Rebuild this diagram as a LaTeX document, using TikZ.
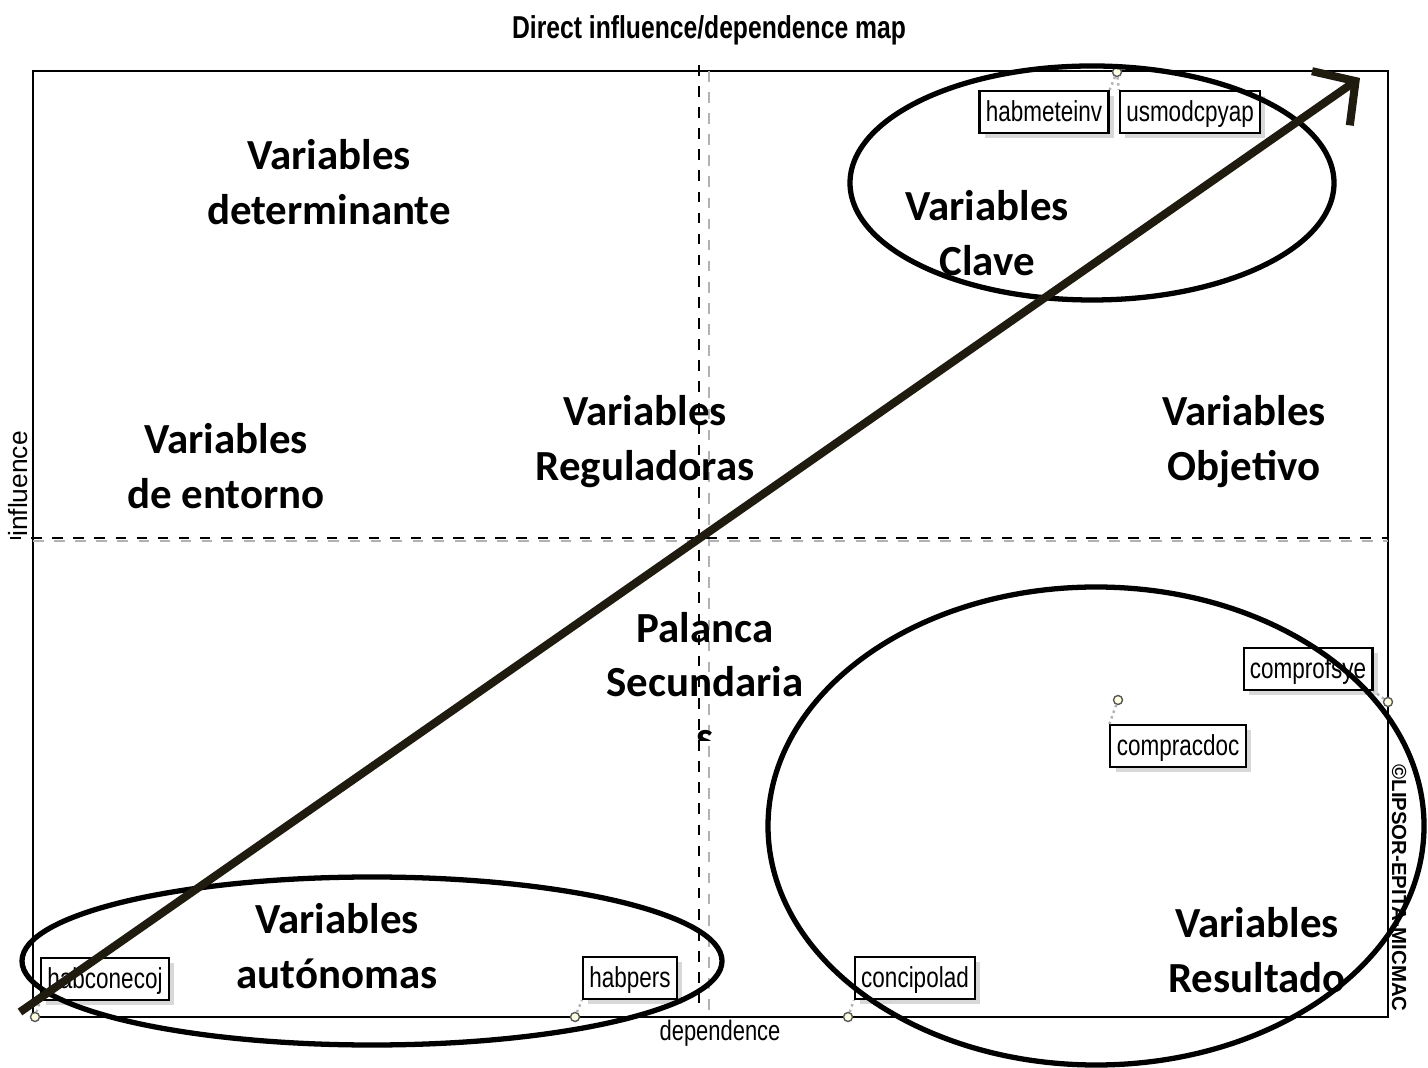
\documentclass[tikz,border=0pt]{standalone}
\usepackage{fontspec}
\setmainfont{Carlito}
\newfontfamily\narrowsans{Liberation Sans}[FakeStretch=0.78]
\newfontfamily\plainsans{Liberation Sans}
\usetikzlibrary{arrows.meta, shadows}

\begin{document}
\begin{tikzpicture}[
    x=0.01cm, y=-0.01cm,
    zone/.style={align=center, font=\fontsize{12.2}{15.6}\selectfont\bfseries},
    tag/.style={draw, line width=0.6pt, fill=white, inner xsep=1.8pt, inner ysep=1.2pt,
      text height=1.55ex, text depth=0.45ex, font=\fontsize{8.2}{9}\narrowsans,
      drop shadow={shadow xshift=1.5pt, shadow yshift=-1.5pt, fill=gray!60}},
    pt/.style={circle, draw=gray!70!black, fill=yellow!12, inner sep=0pt, minimum size=0.09cm},
    lead/.style={gray!60, densely dotted, line width=0.7pt},
    oval/.style={line width=1.5pt},
    axisbw/.style={dashed, line width=0.6pt},
    axisgr/.style={dashed, gray!60, line width=0.5pt},
    bigarrow/.style={line width=2.3pt, draw={rgb,255:red,31;green,27;blue,15},
      -{Straight Barb[length=0.3cm, width=0.66cm]}}
  ]
    \useasboundingbox (0,0) rectangle (1428,1068);

    % title and axis names
    \node[font=\fontsize{9}{10}\selectfont\narrowsans\bfseries] (title) at (709,30)
      {Direct influence/dependence map};
    \node[rotate=90, font=\fontsize{7.5}{9}\plainsans] (infl) at (18,484) {influence};
    \node[font=\fontsize{8}{9}\narrowsans] (dep) at (720,1033) {dependence};
    \node[rotate=-90, font=\fontsize{5.8}{7}\plainsans\bfseries] (copy) at (1399,888)
      {©LIPSOR-EPITA-MICMAC};

    % plot frame and axes
    \draw[line width=0.7pt] (33,71) rectangle (1388,1017);
    \draw[axisgr] (709,71) -- (709,1017);
    \draw[axisgr] (33,541) -- (1388,541);
    \draw[axisbw] (699,65) -- (699,1003);
    \draw[axisbw] (10,538) -- (1388,538);

    % variables
    \node[tag] (habmeteinv) at (1044,112) {habmeteinv};
    \node[tag] (usmodcpyap) at (1190,112) {usmodcpyap};
    \node[tag] (habconecoj) at (105,979) {habconecoj};
    \node[tag] (habpers) at (630,978) {habpers};
    \node[tag] (concipolad) at (915,978) {concipolad};
    \node[tag] (comprofsye) at (1308,669) {comprofsye};
    \node[tag] (compracdoc) at (1178,746) {compracdoc};

    \node[pt] (p-hm) at (1117,72) {};
    \node[pt] (p-hc) at (35,1017) {};
    \node[pt] (p-hp) at (575,1017) {};
    \node[pt] (p-cp) at (848,1017) {};
    \node[pt] (p-cf) at (1388,702) {};
    \node[pt] (p-cd) at (1118,700) {};

    \draw[lead] (p-hm) -- (habmeteinv.north east);
    \draw[lead] (p-hm) -- (usmodcpyap.north west);
    \draw[lead] (p-hc) -- (habconecoj.south west);
    \draw[lead] (p-hp) -- (habpers.south west);
    \draw[lead] (p-cp) -- (concipolad.south west);
    \draw[lead] (p-cf) -- (comprofsye.south east);
    \draw[lead] (p-cd) -- (compracdoc.north west);

    % zones
    \node[zone] (det) at (329,182) {Variables\\determinante};
    \node[zone] (env) at (226,466) {Variables\\de entorno};
    \node[zone] (reg) at (645,442) {Variables\\Reguladoras};
    \node[zone] (obj) at (1244,442) {Variables\\Objetivo};
    \node[zone] (clave) at (987,233) {Variables\\Clave};
    \node[zone] (auto) at (337,946) {Variables\\autónomas};
    \node[zone] (res) at (1257,950) {Variables\\Resultado};
    \begin{scope}
      \clip (540,580) rectangle (870,741);
      \node[zone] (palanca) at (705,682) {Palanca\\Secundaria\\s};
    \end{scope}

    % groups
    \draw[oval] (1092,183) ellipse [x radius=242, y radius=117];
    \draw[oval] (372,961) ellipse [x radius=350, y radius=84];
    \draw[oval] (1096,826) ellipse [x radius=328, y radius=239];

    \coordinate (start) at (20,1012);
    \coordinate (tip) at (1360,78);
    \draw[bigarrow] (start) -- (tip);
  \end{tikzpicture}
\end{document}
